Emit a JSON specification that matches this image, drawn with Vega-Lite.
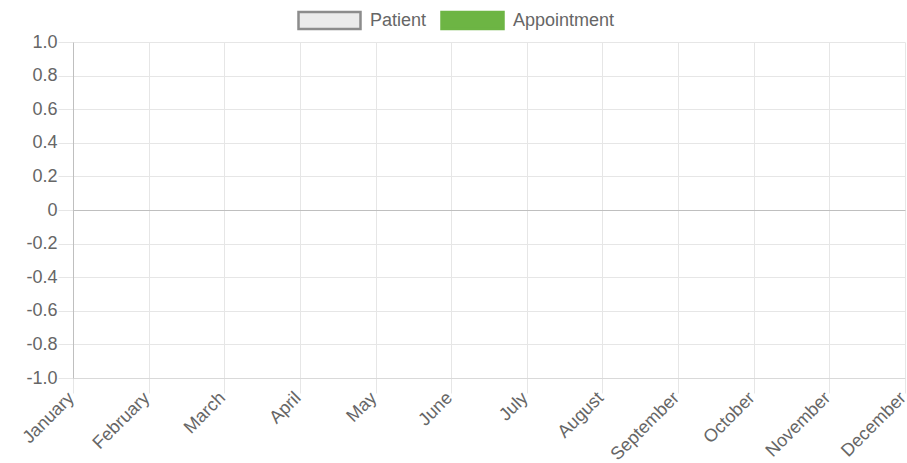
{
  "$schema": "https://vega.github.io/schema/vega-lite/v6.json",
  "width": 832,
  "height": 336,
  "autosize": {"type": "none"},
  "padding": {"left": 73, "top": 42, "right": 2, "bottom": 85},
  "background": "white",
  "config": {"font": "Liberation Sans", "view": {"stroke": null}},
  "data": {
    "values": [
      {"month": "January", "series": "Patient", "value": null},
      {"month": "February", "series": "Patient", "value": null},
      {"month": "March", "series": "Patient", "value": null},
      {"month": "April", "series": "Patient", "value": null},
      {"month": "May", "series": "Patient", "value": null},
      {"month": "June", "series": "Patient", "value": null},
      {"month": "July", "series": "Patient", "value": null},
      {"month": "August", "series": "Patient", "value": null},
      {"month": "September", "series": "Patient", "value": null},
      {"month": "October", "series": "Patient", "value": null},
      {"month": "November", "series": "Patient", "value": null},
      {"month": "December", "series": "Patient", "value": null},
      {"month": "January", "series": "Appointment", "value": null},
      {"month": "February", "series": "Appointment", "value": null},
      {"month": "March", "series": "Appointment", "value": null},
      {"month": "April", "series": "Appointment", "value": null},
      {"month": "May", "series": "Appointment", "value": null},
      {"month": "June", "series": "Appointment", "value": null},
      {"month": "July", "series": "Appointment", "value": null},
      {"month": "August", "series": "Appointment", "value": null},
      {"month": "September", "series": "Appointment", "value": null},
      {"month": "October", "series": "Appointment", "value": null},
      {"month": "November", "series": "Appointment", "value": null},
      {"month": "December", "series": "Appointment", "value": null}
    ]
  },
  "mark": {"type": "point", "filled": false, "strokeWidth": 2.5, "opacity": 1},
  "encoding": {
    "x": {
      "field": "month",
      "type": "ordinal",
      "sort": null,
      "scale": {
        "type": "point",
        "padding": 0,
        "domain": ["January", "February", "March", "April", "May", "June", "July", "August", "September", "October", "November", "December"]
      },
      "axis": {
        "title": null,
        "grid": true,
        "gridColor": "#e6e6e6",
        "tickColor": "#e6e6e6",
        "tickSize": 15,
        "domain": true,
        "domainColor": "#d9d9d9",
        "labelAngle": -45,
        "labelAlign": "right",
        "labelBaseline": "middle",
        "labelFontSize": 18,
        "labelColor": "#666666",
        "labelPadding": 2,
        "labelOffset": -2,
        "labelOverlap": false,
        "labelBound": false
      }
    },
    "y": {
      "field": "value",
      "type": "quantitative",
      "scale": {"domain": [-1, 1], "nice": false, "zero": false},
      "axis": {
        "title": null,
        "values": [-1, -0.8, -0.6, -0.4, -0.2, 0, 0.2, 0.4, 0.6, 0.8, 1],
        "grid": true,
        "gridColor": {"condition": {"test": "datum.value === 0", "value": "#bfbfbf"}, "value": "#e6e6e6"},
        "tickColor": "#e6e6e6",
        "tickSize": 15,
        "domain": true,
        "domainColor": "#bfbfbf",
        "labelFontSize": 18,
        "labelColor": "#666666",
        "labelPadding": 1,
        "labelOverlap": false,
        "labelFlush": false,
        "labelExpr": "datum.value == 0 ? '0' : (datum.value < 0 ? '-' + format(-datum.value, '.1f') : format(datum.value, '.1f'))"
      }
    },
    "fill": {
      "field": "series",
      "type": "nominal",
      "scale": {"domain": ["Patient", "Appointment"], "range": ["#ebebeb", "#6db544"]},
      "legend": {
        "title": null,
        "orient": "none",
        "direction": "horizontal",
        "legendX": 224,
        "legendY": -54,
        "symbolType": "M-1,-0.274H1V0.274H-1Z",
        "symbolSize": 3844,
        "symbolStrokeWidth": 2.5,
        "symbolOpacity": 1,
        "labelFontSize": 18,
        "labelColor": "#666666",
        "labelOffset": 8,
        "columnPadding": 9
      }
    },
    "stroke": {
      "field": "series",
      "type": "nominal",
      "scale": {"domain": ["Patient", "Appointment"], "range": ["#8c8c8c", "#6db544"]},
      "legend": {
        "title": null,
        "orient": "none",
        "direction": "horizontal",
        "legendX": 224,
        "legendY": -54,
        "symbolType": "M-1,-0.274H1V0.274H-1Z",
        "symbolSize": 3844,
        "symbolStrokeWidth": 2.5,
        "symbolOpacity": 1,
        "labelFontSize": 18,
        "labelColor": "#666666",
        "labelOffset": 8,
        "columnPadding": 9
      }
    }
  }
}
